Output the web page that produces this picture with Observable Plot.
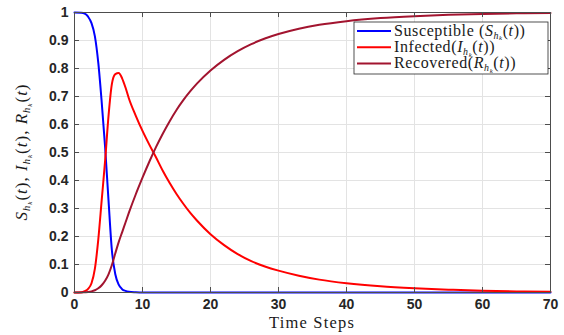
<!DOCTYPE html>
<html><head><meta charset="utf-8">
<script src="https://cdn.jsdelivr.net/npm/d3@7"></script>
<script src="https://cdn.jsdelivr.net/npm/@observablehq/plot@0.6"></script>
<style>body{margin:0;background:#fff} svg{display:block}</style>
</head><body><div id="chart"></div>
<script>
const t = [0,1,1.5,2,2.5,3,3.5,4,4.5,5,5.5,6,6.5,7,7.5,8,9,10,11,12,13,14,15,16,17,18,20,22,24,26,28,30,33,36,40,45,50,55,60,65,70];
const susceptible = [1,0.999,0.996,0.985,0.962,0.915,0.82,0.68,0.52,0.33,0.15,0.065,0.028,0.012,0.006,0.003,0.001,0,0,0,0,0,0,0,0,0,0,0,0,0,0,0,0,0,0,0,0,0,0,0,0];
const infected = [0,0.001,0.005,0.013,0.033,0.085,0.19,0.33,0.47,0.63,0.745,0.78,0.784,0.765,0.732,0.693,0.632,0.577,0.528,0.482,0.434,0.391,0.352,0.317,0.285,0.257,0.208,0.169,0.137,0.112,0.093,0.078,0.06,0.046,0.033,0.022,0.015,0.01,0.006,0.004,0.003];
const recovered = [0,0,0.001,0.002,0.004,0.008,0.015,0.026,0.042,0.065,0.098,0.14,0.18,0.215,0.25,0.285,0.35,0.41,0.467,0.52,0.568,0.612,0.652,0.687,0.718,0.746,0.793,0.831,0.862,0.887,0.907,0.923,0.942,0.956,0.969,0.98,0.987,0.992,0.995,0.997,0.998];
const xTicks = [0,10,20,30,40,50,60,70];
const xTickLabels = ["0","10","20","30","40","50","60","70"];
const yTicks = [0,0.1,0.2,0.3,0.4,0.5,0.6,0.7,0.8,0.9,1];
const yTickLabels = ["0","0.1","0.2","0.3","0.4","0.5","0.6","0.7","0.8","0.9","1"];
const seriesNames = ["Susceptible","Infected","Recovered"];
const seriesLetters = ["S","I","R"];
const legendPrefixes = ["Susceptible (","Infected(","Recovered("];
const seriesColors = ["#0000ff","#ff0000","#a2142f"];
const xLabel = "Time Steps";

const seriesValues = [susceptible, infected, recovered];
const rows = [];
seriesNames.forEach((name, k) => t.forEach((x, i) => rows.push({t: x, v: seriesValues[k][i], series: name})));

const axisColor = "#4d4d4d";
const plot = Plot.plot({
  width: 564, height: 335,
  marginLeft: 74, marginRight: 14, marginTop: 12, marginBottom: 43,
  style: {fontFamily: "'Liberation Sans', Arial, sans-serif", fontSize: "14px", background: "#fff", color: "#262626"},
  x: {domain: [0, 70]},
  y: {domain: [0, 1]},
  color: {domain: seriesNames, range: seriesColors},
  marks: [
    Plot.gridX(xTicks, {stroke: "#e3e3e3", strokeOpacity: 1}),
    Plot.gridY(yTicks, {stroke: "#e3e3e3", strokeOpacity: 1}),
    Plot.line(rows, {x: "t", y: "v", stroke: "series", strokeWidth: 2, curve: "monotone-x"}),
    Plot.tickX(xTicks, {x: d => d, insetTop: 275, stroke: axisColor}),
    Plot.tickX(xTicks, {x: d => d, insetBottom: 275, stroke: axisColor}),
    Plot.tickY(yTicks, {y: d => d, insetRight: 471, stroke: axisColor}),
    Plot.tickY(yTicks, {y: d => d, insetLeft: 471, stroke: axisColor}),
    Plot.frame({stroke: axisColor, strokeWidth: 1}),
    Plot.axisX(xTicks, {tickSize: 0, tickPadding: 7, fontWeight: "bold", fontSize: 14, label: null, fill: "#262626", tickFormat: d => xTickLabels[xTicks.indexOf(d)]}),
    Plot.axisY(yTicks, {tickSize: 0, tickPadding: 6, fontWeight: "bold", fontSize: 14, label: null, fill: "#262626", tickFormat: d => yTickLabels[yTicks.indexOf(d)]})
  ]
});
document.getElementById("chart").appendChild(plot);

const svg = d3.select(plot);
const serif = "'Liberation Serif', 'DejaVu Serif', serif";
const xs = plot.scale("x"), ys = plot.scale("y");

function addMath(text, letter, fs) {
  text.append("tspan").attr("font-style", "italic").text(letter);
  text.append("tspan").attr("font-style", "italic").attr("font-size", fs * 0.62).attr("dy", fs * 0.2).text("h");
  text.append("tspan").attr("font-style", "italic").attr("font-size", fs * 0.42).attr("dy", fs * 0.1).text("k");
  text.append("tspan").attr("font-size", fs).attr("dy", -fs * 0.3).text("(");
  text.append("tspan").attr("font-style", "italic").text("t");
  text.append("tspan").text(")");
}

// x axis label
svg.append("text")
  .attr("x", (xs.apply(0) + xs.apply(70)) / 2)
  .attr("y", ys.apply(0) + 36)
  .attr("text-anchor", "middle")
  .attr("font-family", serif).attr("font-size", 16.5).attr("letter-spacing", 1.2)
  .attr("fill", "#1a1a1a")
  .text(xLabel);

// y axis label
const yl = svg.append("text")
  .attr("transform", `translate(27,${(ys.apply(0) + ys.apply(1)) / 2}) rotate(-90)`)
  .attr("text-anchor", "middle")
  .attr("font-family", serif)
  .attr("font-size", 17).attr("letter-spacing", 1)
  .attr("fill", "#1a1a1a");
seriesLetters.forEach((L, i) => {
  addMath(yl, L, 17);
  if (i < seriesLetters.length - 1) yl.append("tspan").text(", ");
});

// legend
const lg = svg.append("g");
lg.append("rect").attr("x", 354).attr("y", 22).attr("width", 194).attr("height", 52)
  .attr("fill", "#fff").attr("stroke", "#262626").attr("stroke-width", 0.8);
seriesNames.forEach((name, i) => {
  const cy = 31 + i * 16.3;
  lg.append("line").attr("x1", 357).attr("x2", 391).attr("y1", cy).attr("y2", cy)
    .attr("stroke", seriesColors[i]).attr("stroke-width", 2);
  const tx = lg.append("text").attr("x", 394).attr("y", cy + 4.5)
    .attr("text-anchor", "start")
    .attr("font-family", serif).attr("font-size", 16).attr("letter-spacing", 0.6).attr("fill", "#1a1a1a");
  tx.append("tspan").text(legendPrefixes[i]);
  addMath(tx, seriesLetters[i], 16);
  tx.append("tspan").text(")");
});
</script>
</body></html>
